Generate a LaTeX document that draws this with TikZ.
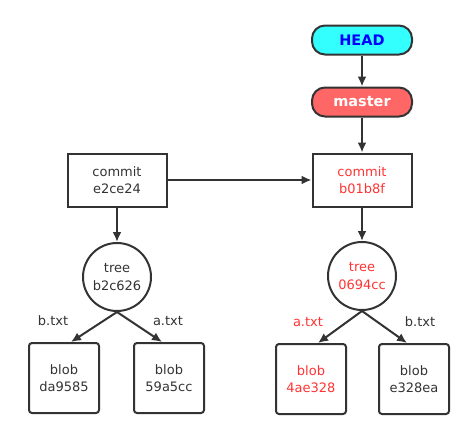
\documentclass[tikz,border=0pt]{standalone}
\usepackage{fontspec}
\setmainfont{DejaVu Sans}
\usepackage{xcolor}
\usetikzlibrary{positioning, arrows.meta}
\definecolor{ink}{HTML}{333333}
\definecolor{hot}{HTML}{FF3333}
\definecolor{headfill}{HTML}{33FFFF}
\definecolor{masterfill}{HTML}{FF6666}
\begin{document}
\begin{tikzpicture}[x=1pt, y=-1pt, line width=2pt, color=ink, >={Latex[length=10pt, width=9pt]},
  every node/.style={font=\fontsize{13}{17.5}\selectfont, text=ink, align=center},
  refbox/.style={draw=ink, rounded corners=13pt, minimum width=100pt, minimum height=29pt, font=\fontsize{14.5}{17}\selectfont\bfseries},
  commitbox/.style={draw=ink, minimum width=99pt, minimum height=53pt},
  treenode/.style={draw=ink, circle, minimum size=68pt, inner sep=0pt},
  blobbox/.style={draw=ink, rounded corners=3pt, minimum width=70pt, minimum height=70pt},
  lbl/.style={pos=1, anchor=south, yshift=12pt}]
\useasboundingbox (0, 0) rectangle (474, 439);
\node [refbox, fill=headfill, text=blue] (head) at (362, 40) {HEAD};
\node [refbox, fill=masterfill, text=white] (master) at (362, 102) {master};
\node [commitbox] (c1) at (117, 180) {commit\\e2ce24};
\node [commitbox, text=hot] (c2) at (362, 180) {commit\\b01b8f};
\node [treenode] (t1) at (117, 277) {tree\\b2c626};
\node [treenode, text=hot] (t2) at (362, 276) {tree\\0694cc};
\node [blobbox] (b1) at (64, 378) {blob\\da9585};
\node [blobbox] (b2) at (169, 378) {blob\\59a5cc};
\node [blobbox, text=hot] (b3) at (311, 379) {blob\\4ae328};
\node [blobbox] (b4) at (414, 379) {blob\\e328ea};
\draw [->] (head) -- (master);
\draw [->] (master) -- (c2);
\draw [->] (c1) -- (c2);
\draw [->] (c1) -- (t1);
\draw [->] (c2) -- (t2);
\draw [->] (t1.south) -- ([xshift=7pt]b1.north) node [lbl, xshift=-18pt] {b.txt};
\draw [->] (t1.south) -- ([xshift=-7pt]b2.north) node [lbl, xshift=6pt] {a.txt};
\draw [->] (t2.south) -- ([xshift=7pt]b3.north) node [lbl, xshift=-10pt, text=hot] {a.txt};
\draw [->] (t2.south) -- ([xshift=-7pt]b4.north) node [lbl, xshift=13pt] {b.txt};
\end{tikzpicture}
\end{document}
